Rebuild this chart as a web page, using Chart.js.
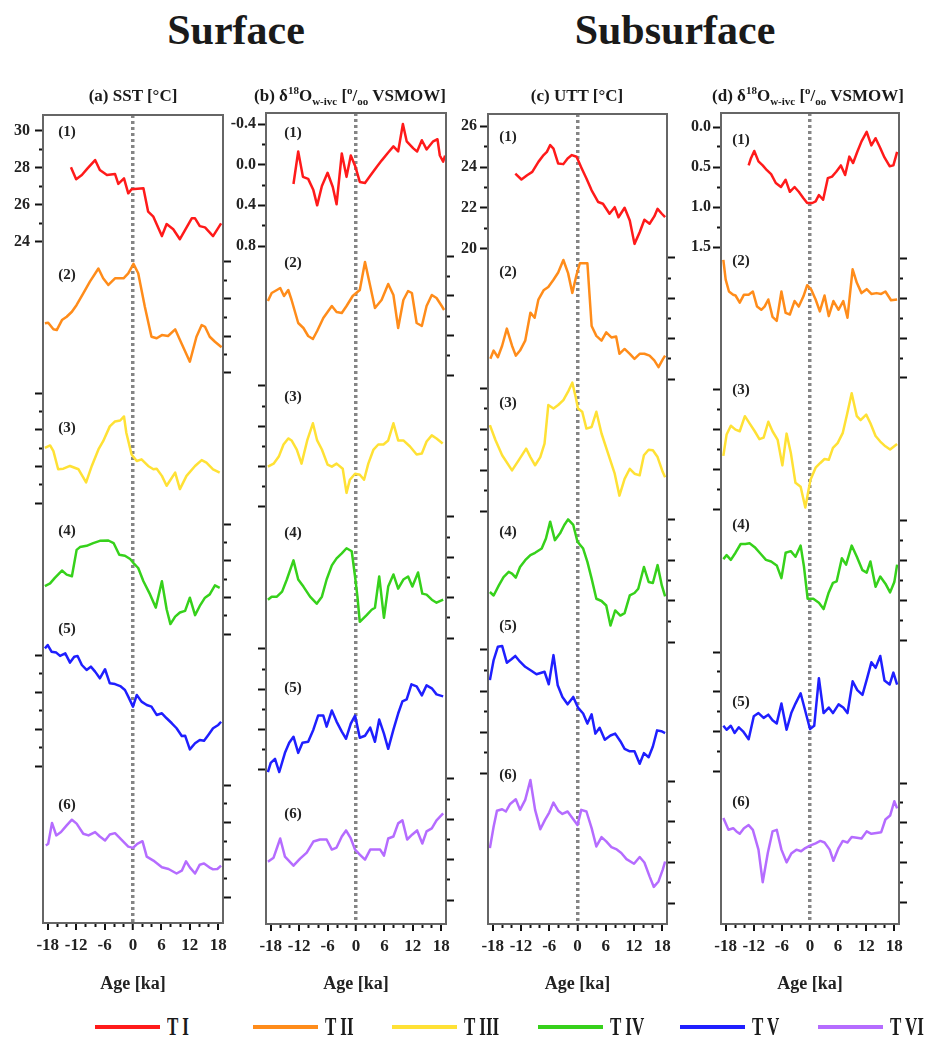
<!DOCTYPE html>
<html>
<head>
<meta charset="utf-8">
<script src="https://cdn.jsdelivr.net/npm/chart.js@4.4.1/dist/chart.umd.min.js"></script>
<style>
  body { margin: 0; background: #fff; width: 928px; height: 1046px; position: relative; overflow: hidden;
         font-family: "Liberation Serif", serif; font-weight: bold; color: #1a1a1a; }
  canvas { position: absolute; top: 100px; }
  .big { position: absolute; top: 9px; font-size: 42px; line-height: 1; transform: translateX(-50%); white-space: nowrap; }
  .ptitle { position: absolute; top: 87px; font-size: 17px; line-height: 1; transform: translateX(-50%); white-space: nowrap; }
  .ptitle sup, .ptitle sub { font-size: 11px; line-height: 0; }
  .leg { position: absolute; top: 1013px; height: 28px; display: flex; align-items: center; white-space: nowrap; }
  .leg span { display: inline-block; width: 65px; height: 4px; margin-right: 7px; }
  .leg b { display: inline-block; font-size: 25px; line-height: 28px; transform: scaleX(0.68); transform-origin: left center; }
</style>
</head>
<body>
<canvas id="ca" width="240" height="900" style="left:0px"></canvas>
<canvas id="cb" width="240" height="900" style="left:222px"></canvas>
<canvas id="cc" width="240" height="900" style="left:445px"></canvas>
<canvas id="cd" width="250" height="900" style="left:678px"></canvas>

<div class="big" style="left:236px">Surface</div>
<div class="big" style="left:675px">Subsurface</div>
<div class="ptitle" style="left:133px">(a) SST [°C]</div>
<div class="ptitle" style="left:350px">(b) δ<sup>18</sup>O<sub>w-ivc</sub> [<sup>o</sup>/<sub>oo</sub> VSMOW]</div>
<div class="ptitle" style="left:577px">(c) UTT [°C]</div>
<div class="ptitle" style="left:808px">(d) δ<sup>18</sup>O<sub>w-ivc</sub> [<sup>o</sup>/<sub>oo</sub> VSMOW]</div>
<div id="legend"></div>

<script>
// terminations
const termNames = ["T I", "T II", "T III", "T IV", "T V", "T VI"];
const termColors = ["#ff1a1a", "#ff8c1a", "#ffe135", "#36d11b", "#1f1fff", "#b56cff"];

// x axis ticks (age relative to termination, ka)
const xMajor = [-18, -12, -6, 0, 6, 12, 18];
const xMinor = [-16, -14, -10, -8, -4, -2, 2, 4, 8, 10, 14, 16];

// y tick values, listed top to bottom (same units for every stacked record)
const sstTicks = [30, 29, 28, 27, 26, 25, 24];
const d18oTicksB = [-0.4, -0.2, 0, 0.2, 0.4, 0.6, 0.8];
const uttTicks = [26, 25, 24, 23, 22, 21, 20];
const d18oTicksD = [0, 0.25, 0.5, 0.75, 1, 1.25, 1.5];

// (a) SST
const sstAge = [
  [-13.1,-12.0,-10.8,-9.6,-8.0,-7.0,-5.5,-3.8,-3.1,-1.9,-1.0,-0.3,2.2,3.2,4.3,6.1,7.1,8.5,9.9,12.4,13.1,14.1,15.2,16.9,18.6],
  [-18.6,-17.9,-16.8,-16.1,-15.0,-14.0,-12.9,-11.9,-10.5,-9.1,-7.3,-6.3,-5.2,-3.8,-2.0,-1.0,0.1,1.1,2.5,3.9,5.0,6.1,7.4,8.9,10.3,12.0,13.4,14.5,15.2,16.2,17.3,18.7],
  [-18.6,-17.5,-16.8,-15.8,-14.7,-13.3,-11.5,-9.9,-8.7,-7.3,-6.3,-4.9,-3.8,-2.7,-1.9,-1.4,-0.3,0.8,1.8,3.2,4.3,5.0,6.1,7.1,8.9,9.9,11.3,13.1,14.5,15.5,16.9,18.3],
  [-18.6,-17.5,-16.5,-15.0,-14.0,-12.9,-11.9,-11.2,-9.8,-8.4,-7.0,-5.2,-4.1,-2.9,-1.7,-0.6,0.1,1.1,2.2,3.6,4.8,6.1,7.1,7.9,8.9,9.9,11.0,12.0,13.1,14.1,15.2,16.2,17.3,18.3],
  [-18.6,-18.0,-17.2,-16.2,-15.4,-14.3,-13.3,-12.4,-11.7,-10.8,-9.8,-8.9,-8.0,-7.0,-5.9,-4.9,-3.8,-2.7,-1.7,-1.0,0.0,0.8,1.8,2.9,3.9,5.0,6.1,7.1,8.2,9.2,10.3,11.0,12.0,13.1,14.1,15.0,15.9,16.9,18.0,18.6],
  [-18.4,-17.9,-17.1,-16.2,-15.2,-14.0,-12.9,-11.9,-10.5,-9.4,-8.0,-7.0,-5.9,-4.9,-3.8,-2.4,-1.0,0.0,0.9,2.0,2.9,4.3,6.1,7.5,9.2,10.3,11.2,12.0,13.1,14.1,15.0,16.1,16.9,17.8,18.6]
];
const sstVal = [
  [28.04,27.39,27.62,27.98,28.43,27.89,27.62,27.68,27.14,27.44,26.63,26.85,26.90,25.64,25.37,24.32,24.97,24.69,24.15,25.28,25.28,24.86,24.79,24.32,25.01],
  [26.69,26.72,26.36,26.32,26.86,27.04,27.31,27.68,28.31,28.94,29.65,29.12,28.76,29.12,29.12,29.39,29.9,29.39,27.58,25.96,25.88,26.05,26.0,26.36,25.57,24.61,25.96,26.59,26.5,25.96,25.69,25.39],
  [27.01,27.14,26.83,25.84,25.87,26.02,25.84,25.12,26.02,26.92,27.37,28.18,28.45,28.50,28.72,27.82,26.65,26.29,26.38,26.02,25.84,25.87,25.48,24.94,25.66,24.76,25.48,26.02,26.34,26.2,25.84,25.66],
  [26.61,26.76,27.06,27.46,27.24,27.15,28.59,28.74,28.81,28.96,29.08,29.10,28.96,28.32,28.27,28.09,27.87,27.6,26.88,26.16,25.44,26.88,25.35,24.54,24.95,25.17,25.26,25.98,25.03,25.53,25.98,26.16,26.65,26.52],
  [30.36,30.54,30.18,30.13,29.95,30.09,29.59,29.91,29.95,29.46,29.19,29.37,29.10,28.74,29.23,28.47,28.43,28.32,28.11,27.75,27.21,27.84,27.48,27.30,27.21,26.76,26.85,26.58,26.31,26.04,25.62,25.64,24.90,25.23,25.41,25.37,25.68,26.04,26.22,26.39],
  [26.76,26.85,27.97,27.30,27.48,27.84,28.14,27.93,27.39,27.30,27.48,27.24,27.03,27.35,27.42,27.06,26.70,26.63,26.85,26.99,26.16,25.95,25.59,25.50,25.26,25.41,25.91,25.59,25.26,25.73,25.80,25.59,25.48,25.50,25.68]
];

// (b) surface d18O(w-ivc)
const d18oSurfAge = [
  [-13.2,-12.2,-11.2,-10.1,-9.0,-8.2,-7.2,-6.0,-4.9,-4.1,-3.0,-2.0,-1.1,-0.2,0.8,1.9,3.0,4.4,5.4,6.8,7.9,8.9,9.9,10.7,12.1,12.9,13.9,14.9,16.3,17.2,17.7,18.4,18.8],
  [-18.6,-17.8,-16.7,-16.0,-15.2,-14.3,-13.6,-12.2,-11.1,-10.1,-9.1,-8.2,-6.9,-5.1,-4.1,-3.0,-2.0,-0.7,0.8,1.9,3.0,4.0,5.4,6.8,7.9,8.9,10.0,11.0,11.8,12.8,13.9,14.9,16.0,17.0,18.1,18.6],
  [-18.6,-17.4,-16.3,-15.3,-14.3,-13.6,-12.5,-11.5,-10.3,-9.1,-8.2,-7.2,-6.0,-5.1,-4.1,-2.8,-2.0,-1.3,-0.2,0.8,1.7,2.6,3.7,4.7,5.8,6.8,7.9,8.9,10.0,11.4,12.8,13.9,14.9,16.0,17.0,18.3],
  [-18.6,-17.8,-16.7,-15.6,-14.6,-13.2,-12.2,-11.1,-9.7,-8.3,-7.2,-6.2,-5.1,-4.1,-3.0,-2.0,-0.9,-0.2,0.3,0.8,2.3,3.3,4.0,4.9,5.9,6.8,7.9,8.9,10.0,11.0,11.9,13.1,14.0,14.9,16.0,17.0,18.4],
  [-18.6,-18.0,-17.1,-16.2,-15.0,-14.1,-13.2,-12.2,-11.3,-10.1,-9.0,-8.0,-6.9,-6.2,-5.1,-4.1,-3.0,-2.1,-1.1,-0.2,0.8,1.9,3.0,4.0,4.9,5.9,6.8,7.9,8.9,9.8,10.7,11.7,12.8,13.9,14.9,16.0,17.0,18.4],
  [-18.6,-17.4,-16.0,-15.0,-13.2,-11.8,-10.4,-9.0,-7.6,-6.2,-5.1,-4.1,-3.0,-2.1,-1.1,-0.2,0.8,1.9,3.0,4.0,5.1,5.9,6.8,7.9,8.9,9.8,10.8,11.9,12.9,14.0,14.9,16.0,17.0,18.4]
];
const d18oSurfVal = [
  [0.19,-0.13,0.12,0.14,0.25,0.40,0.21,0.08,0.22,0.39,-0.11,0.12,-0.09,0.01,0.17,0.18,0.11,0.02,-0.04,-0.12,-0.18,-0.13,-0.40,-0.23,-0.16,-0.13,-0.24,-0.15,-0.23,-0.25,-0.09,-0.03,-0.09],
  [0.05,-0.03,-0.06,-0.08,0.00,-0.06,0.04,0.27,0.32,0.40,0.43,0.35,0.22,0.10,0.16,0.17,0.10,0.00,-0.06,-0.34,-0.10,0.12,0.04,-0.12,-0.01,0.32,0.04,-0.05,-0.03,0.27,0.30,0.10,-0.01,0.02,0.10,0.14],
  [0.40,0.37,0.30,0.18,0.12,0.14,0.23,0.37,0.14,-0.03,0.14,0.23,0.38,0.40,0.37,0.42,0.66,0.53,0.47,0.48,0.53,0.37,0.23,0.18,0.18,0.14,-0.03,0.14,0.14,0.20,0.28,0.27,0.15,0.09,0.12,0.17],
  [0.42,0.39,0.39,0.34,0.22,0.03,0.22,0.29,0.39,0.46,0.39,0.22,0.08,0.01,-0.04,-0.09,-0.06,0.19,0.39,0.64,0.57,0.52,0.50,0.19,0.60,0.29,0.17,0.31,0.22,0.19,0.29,0.15,0.36,0.37,0.42,0.45,0.42],
  [0.82,0.73,0.69,0.82,0.63,0.53,0.47,0.63,0.53,0.52,0.40,0.26,0.26,0.37,0.21,0.32,0.42,0.49,0.34,0.26,0.48,0.46,0.38,0.52,0.30,0.44,0.59,0.40,0.24,0.12,0.10,-0.05,-0.03,0.06,-0.04,-0.01,0.05,0.07],
  [0.42,0.38,0.19,0.37,0.46,0.39,0.33,0.22,0.20,0.20,0.30,0.28,0.17,0.11,0.19,0.30,0.35,0.40,0.30,0.30,0.30,0.36,0.19,0.17,0.04,0.01,0.20,0.15,0.11,0.24,0.12,0.09,0.01,-0.06]
];

// (c) UTT
const uttAge = [
  [-13.2,-11.9,-10.7,-9.6,-8.3,-7.2,-6.5,-5.8,-5.1,-4.1,-3.0,-2.1,-1.2,-0.2,0.9,1.9,3.0,4.4,5.4,6.8,7.9,8.7,10.0,11.1,12.1,13.2,14.2,15.3,16.3,17.0,17.9,18.6],
  [-18.5,-17.8,-16.9,-16.0,-15.0,-13.9,-13.1,-12.2,-11.1,-10.0,-9.1,-8.3,-7.2,-6.2,-5.1,-4.1,-3.0,-2.0,-1.1,-0.2,0.5,2.1,3.0,4.0,5.1,6.1,7.2,8.2,8.9,10.0,11.1,12.1,13.2,14.2,15.3,16.3,17.2,18.1,18.6],
  [-18.6,-17.4,-16.0,-13.9,-12.5,-10.9,-10.0,-9.0,-7.9,-7.0,-6.2,-5.1,-4.1,-3.0,-2.0,-1.1,-0.4,0.1,1.0,1.9,3.0,4.0,5.1,6.5,7.9,8.9,10.0,11.1,12.1,13.2,14.1,15.1,16.0,17.0,18.1,18.6],
  [-18.6,-17.8,-16.7,-15.7,-14.6,-13.9,-13.1,-12.2,-11.1,-10.0,-9.0,-7.6,-6.7,-5.8,-4.8,-3.7,-2.8,-2.0,-0.9,0.0,1.2,2.1,3.0,4.0,5.1,6.1,7.0,8.0,9.1,10.0,11.1,12.1,12.9,14.1,15.1,16.0,17.0,17.9,18.6],
  [-18.6,-17.8,-16.9,-16.0,-15.0,-14.1,-13.2,-12.2,-11.1,-9.8,-8.7,-7.0,-6.1,-5.1,-4.2,-3.2,-2.1,-0.9,0.1,1.2,2.1,3.0,3.8,4.7,5.8,7.0,8.0,9.1,10.0,11.1,12.1,13.2,14.1,15.1,16.0,16.9,17.8,18.6],
  [-18.6,-17.8,-17.1,-16.0,-15.2,-14.3,-13.1,-12.2,-11.1,-10.0,-9.0,-7.9,-6.9,-6.0,-5.1,-4.1,-3.2,-2.1,-0.9,0.0,0.8,1.9,3.0,4.0,5.1,6.1,7.2,8.2,9.3,10.4,12.0,13.2,14.2,15.3,16.2,17.2,18.1,18.6]
];
const uttVal = [
  [23.68,23.39,23.60,23.76,24.25,24.58,24.74,25.07,24.90,24.17,24.14,24.42,24.58,24.50,23.93,23.44,22.86,22.29,22.21,21.72,22.04,21.55,22.01,21.39,20.25,20.82,21.43,21.23,21.59,21.96,21.72,21.55],
  [21.0,21.41,21.08,21.65,22.50,21.65,21.16,21.41,21.90,23.29,23.04,23.94,24.40,24.56,24.92,25.28,25.90,25.25,24.27,25.17,25.74,25.74,22.63,22.14,21.90,22.31,22.06,22.11,21.25,21.49,21.25,21.0,21.25,21.25,21.16,20.92,20.59,20.97,21.16],
  [24.19,23.45,22.72,21.98,22.47,23.04,22.63,22.23,22.63,23.29,25.17,25.00,25.17,25.41,25.82,26.26,25.58,25.00,24.84,24.02,24.10,24.84,23.78,22.80,21.82,20.75,21.57,22.06,21.82,21.74,22.72,22.99,22.96,22.63,21.90,21.65],
  [22.44,22.27,22.76,23.17,23.42,23.34,23.14,23.66,23.99,24.24,24.35,24.56,25.05,25.87,24.97,25.30,25.71,25.98,25.71,24.89,24.56,23.91,23.09,22.11,22.0,21.78,20.80,21.54,21.29,21.41,22.27,22.39,22.60,23.66,22.93,22.88,23.75,22.76,22.23],
  [24.53,25.51,26.16,26.20,25.38,25.54,25.71,25.43,25.18,24.99,24.82,24.94,24.33,25.75,24.28,23.71,23.35,23.71,23.19,22.90,22.41,22.86,21.92,22.21,21.62,21.83,21.92,21.55,21.18,21.06,21.06,20.45,20.97,20.77,21.29,22.08,22.04,21.95],
  [22.70,23.76,24.54,24.61,24.50,24.87,25.10,24.58,25.07,26.05,24.58,23.63,24.09,24.45,24.94,24.54,24.38,24.50,24.12,23.84,24.58,24.50,23.68,22.78,23.24,23.03,22.75,22.65,22.46,22.16,21.93,22.26,21.99,21.31,20.79,21.06,21.64,22.04]
];

// (d) subsurface d18O(w-ivc)
const d18oSubAge = [
  [-13.1,-12.6,-11.9,-11.0,-10.1,-9.2,-8.3,-7.3,-6.2,-5.2,-4.3,-3.3,-2.4,-1.4,-0.6,0.5,1.2,1.9,2.8,3.8,4.7,5.6,6.6,7.5,8.4,9.2,10.1,11.0,12.1,13.1,14.0,14.9,15.9,17.0,17.8,18.6],
  [-18.5,-18.0,-17.3,-16.4,-15.9,-15.0,-14.1,-13.1,-12.2,-11.3,-10.4,-9.7,-8.9,-8.0,-7.1,-6.1,-5.2,-4.3,-3.3,-2.4,-1.4,-0.6,0.3,1.2,2.1,3.1,4.0,5.0,6.1,7.1,8.0,9.1,10.0,11.0,12.1,13.1,14.2,15.2,16.1,17.3,18.6],
  [-18.5,-17.8,-16.9,-15.9,-15.0,-13.9,-12.9,-11.8,-10.8,-9.9,-8.9,-8.0,-6.9,-5.9,-5.0,-4.1,-3.1,-2.0,-1.0,0.1,1.2,2.2,3.1,4.0,4.9,5.9,7.0,7.9,8.9,10.0,10.8,12.0,12.9,14.0,15.0,16.1,17.1,18.6],
  [-18.5,-17.8,-16.9,-15.9,-14.8,-13.8,-12.9,-11.8,-10.6,-9.4,-8.3,-7.1,-6.1,-5.2,-4.1,-3.1,-2.0,-1.3,-0.5,0.7,1.9,2.9,4.0,4.9,5.7,6.8,7.7,8.9,10.0,11.2,12.1,12.9,14.0,15.0,16.1,17.1,18.0,18.6],
  [-18.5,-17.8,-16.9,-16.1,-15.2,-14.3,-13.1,-12.0,-11.0,-9.9,-8.9,-8.0,-7.1,-6.1,-5.0,-4.0,-3.1,-2.0,-1.2,0.0,0.9,1.9,2.9,4.0,4.9,6.1,7.1,8.0,9.1,10.1,11.2,12.2,13.1,14.0,15.0,15.9,17.0,17.8,18.6],
  [-18.5,-17.4,-16.4,-15.7,-15.0,-14.1,-13.1,-12.2,-11.0,-10.1,-9.0,-8.0,-7.1,-6.1,-5.0,-4.0,-2.9,-1.9,-1.0,0.0,1.2,2.2,3.1,4.2,5.0,6.1,7.0,8.0,8.9,10.0,11.0,12.1,13.1,14.2,15.2,16.1,17.1,18.0,18.6]
];
const d18oSubVal = [
  [0.48,0.39,0.30,0.43,0.48,0.54,0.59,0.70,0.75,0.66,0.81,0.75,0.81,0.89,0.95,0.95,0.93,0.85,0.91,0.64,0.62,0.56,0.48,0.60,0.37,0.45,0.31,0.18,0.06,0.23,0.14,0.25,0.38,0.49,0.48,0.31],
  [0.01,0.26,0.41,0.45,0.46,0.55,0.45,0.45,0.41,0.60,0.64,0.60,0.51,0.73,0.78,0.41,0.68,0.70,0.53,0.60,0.47,0.33,0.39,0.51,0.66,0.46,0.72,0.53,0.64,0.53,0.74,0.13,0.30,0.43,0.38,0.44,0.43,0.44,0.41,0.52,0.51],
  [0.83,0.56,0.45,0.50,0.52,0.33,0.42,0.52,0.62,0.60,0.40,0.52,0.63,0.95,0.55,0.79,1.17,1.22,1.48,1.13,0.98,0.92,0.87,0.88,0.73,0.67,0.54,0.31,0.04,0.33,0.38,0.31,0.42,0.58,0.65,0.71,0.75,0.68],
  [0.48,0.43,0.49,0.40,0.29,0.29,0.28,0.33,0.41,0.49,0.51,0.56,0.72,0.40,0.38,0.45,0.31,0.57,0.98,0.98,1.03,1.11,0.90,0.78,0.76,0.47,0.55,0.31,0.45,0.62,0.65,0.51,0.83,0.70,0.79,0.90,0.77,0.55],
  [0.93,0.98,0.93,1.02,0.95,1.00,1.10,0.81,0.77,0.83,0.79,0.86,0.90,0.65,0.98,0.77,0.65,0.52,0.70,0.97,0.93,0.33,0.77,0.70,0.77,0.66,0.70,0.77,0.37,0.48,0.54,0.33,0.13,0.20,0.05,0.36,0.41,0.26,0.41],
  [0.44,0.59,0.57,0.61,0.64,0.57,0.53,0.59,0.84,1.25,0.88,0.61,0.59,0.84,1.00,0.89,0.84,0.86,0.82,0.79,0.76,0.73,0.75,0.84,0.98,0.82,0.73,0.75,0.68,0.69,0.70,0.61,0.64,0.63,0.62,0.46,0.41,0.23,0.32]
];

// page layout of each panel (plot box, where each record's ticks sit, where its "(n)" goes)
const CANVAS_TOP = 100, CANVAS_BOTTOM = 1000;
const panels = [
  { id: "ca", left: 0, width: 240, plotL: 43, plotR: 223, plotT: 115, plotB: 923, labelPad: 5,
    ticks: sstTicks, fmt: v => String(v), ages: sstAge, vals: sstVal,
    bandTop: [131, 262, 393, 524, 655, 785], bandBot: [242, 373, 503, 634, 766, 897],
    labelX: 24, labelY: [17, 160, 313, 416, 514, 690] },
  { id: "cb", left: 222, width: 240, plotL: 266, plotR: 446, plotT: 113, plotB: 924, labelPad: 2,
    ticks: d18oTicksB, fmt: v => v.toFixed(1), ages: d18oSurfAge, vals: d18oSurfVal,
    bandTop: [124, 256, 386, 517, 649, 779], bandBot: [246, 376, 507, 638, 770, 900],
    labelX: 27, labelY: [20, 150, 284, 420, 575, 701] },
  { id: "cc", left: 445, width: 240, plotL: 488, plotR: 667, plotT: 114, plotB: 924, labelPad: 3,
    ticks: uttTicks, fmt: v => String(v), ages: uttAge, vals: uttVal,
    bandTop: [126, 258, 388, 519, 650, 781], bandBot: [249, 379, 511, 642, 773, 903],
    labelX: 20, labelY: [23, 158, 289, 418, 512, 661] },
  { id: "cd", left: 678, width: 250, plotL: 721, plotR: 899, plotT: 113, plotB: 924, labelPad: 2,
    ticks: d18oTicksD, fmt: v => v.toFixed(1), ages: d18oSubAge, vals: d18oSubVal,
    bandTop: [127, 259, 390, 521, 652, 783], bandBot: [247, 378, 509, 640, 771, 902],
    labelX: 20, labelY: [27, 148, 277, 412, 589, 689] }
];

Chart.defaults.font.family = '"Liberation Serif", serif';
Chart.defaults.font.weight = "bold";
Chart.defaults.color = "#222";

// axis range so that the record's ticks land in its own band of the panel
function axisRange(p, i) {
  const vt = p.ticks[0], vb = p.ticks[p.ticks.length - 1];
  const bt = p.bandTop[i], bb = p.bandBot[i];
  const at = y => vt + (y - bt) * (vb - vt) / (bb - bt);
  const top = at(p.plotT), bottom = at(p.plotB);
  return { min: Math.min(top, bottom), max: Math.max(top, bottom), reverse: top < bottom };
}

function yAxes(p) {
  const scales = {};
  const major = p.ticks.filter((v, k) => k % 2 === 0);
  const minor = p.ticks.filter((v, k) => k % 2 === 1);
  for (let i = 0; i < 6; i++) {
    const r = axisRange(p, i);
    const side = i % 2 === 0 ? "left" : "right";
    const base = { type: "linear", axis: "y", position: side, min: r.min, max: r.max, reverse: r.reverse,
                   border: { display: false } };
    scales["y" + i] = Object.assign({}, base, {
      weight: i === 0 ? 10 : 0,
      grid: { drawOnChartArea: false, tickColor: "#111", tickWidth: 2, tickLength: 8 },
      ticks: { display: i === 0, padding: p.labelPad, autoSkip: false, font: { size: 16, weight: "bold" },
               color: "#222", callback: p.fmt },
      afterBuildTicks: s => { s.ticks = major.map(v => ({ value: v })); },
      afterFit: s => { s.width = i === 0 ? p.plotL - p.left : 0; }
    });
    scales["m" + i] = Object.assign({}, base, {
      weight: 0,
      grid: { drawOnChartArea: false, tickColor: "#111", tickWidth: 2, tickLength: 4 },
      ticks: { display: false },
      afterBuildTicks: s => { s.ticks = minor.map(v => ({ value: v })); },
      afterFit: s => { s.width = 0; }
    });
  }
  return scales;
}

function panelPlugin(p) {
  return {
    id: "panelFrame",
    afterDraw(chart) {
      const { ctx, chartArea: a } = chart;
      ctx.save();
      ctx.strokeStyle = "#666";
      ctx.lineWidth = 2;
      ctx.strokeRect(a.left, a.top, a.right - a.left, a.bottom - a.top);
      ctx.fillStyle = "#222";
      ctx.font = 'bold 15px "Liberation Serif"';
      ctx.textAlign = "center";
      ctx.textBaseline = "middle";
      p.labelY.forEach((y, i) => ctx.fillText("(" + (i + 1) + ")", a.left + p.labelX, a.top + y));
      ctx.restore();
    }
  };
}

panels.forEach(p => {
  const datasets = p.ages.map((ages, i) => ({
    label: termNames[i],
    data: ages.map((a, j) => ({ x: a, y: p.vals[i][j] })),
    borderColor: termColors[i],
    borderWidth: 2.5,
    borderJoinStyle: "round",
    pointRadius: 0,
    fill: false,
    yAxisID: "y" + i
  }));
  const xAxisH = CANVAS_BOTTOM - p.plotB;
  new Chart(document.getElementById(p.id), {
    type: "line",
    data: { datasets },
    options: {
      responsive: false,
      animation: false,
      layout: { padding: { left: 0, right: p.left + p.width - p.plotR, top: p.plotT - CANVAS_TOP, bottom: 0 } },
      plugins: { legend: { display: false }, tooltip: { enabled: false } },
      scales: Object.assign({
        x: {
          type: "linear", position: "bottom", min: -19, max: 19, weight: 1, z: 1,
          border: { display: false, dash: [3, 3] },
          grid: {
            drawOnChartArea: true,
            color: c => (c.tick && c.tick.value === 0 ? "#858585" : "rgba(0,0,0,0)"),
            lineWidth: c => (c.tick && c.tick.value === 0 ? 3.5 : 0),
            tickColor: "#111", tickWidth: 2, tickLength: 7
          },
          ticks: { autoSkip: false, maxRotation: 0, padding: 5, font: { size: 17, weight: "bold" }, color: "#222" },
          title: { display: true, text: "Age [ka]", font: { size: 18, weight: "bold" }, color: "#222",
                   padding: { top: 0, bottom: 5 } },
          afterBuildTicks: s => { s.ticks = xMajor.map(v => ({ value: v })); },
          afterFit: s => { s.height = xAxisH; }
        },
        xm: {
          type: "linear", axis: "x", position: "bottom", min: -19, max: 19, weight: 0,
          border: { display: false },
          grid: { drawOnChartArea: false, tickColor: "#111", tickWidth: 2, tickLength: 4 },
          ticks: { display: false },
          afterBuildTicks: s => { s.ticks = xMinor.map(v => ({ value: v })); },
          afterFit: s => { s.height = 0; }
        }
      }, yAxes(p))
    },
    plugins: [panelPlugin(p)]
  });
});

// legend across the bottom
const legendX = [95, 253, 392, 538, 680, 818];
const legend = document.getElementById("legend");
termNames.forEach((name, i) => {
  const item = document.createElement("div");
  item.className = "leg";
  item.style.left = legendX[i] + "px";
  item.innerHTML = '<span style="background:' + termColors[i] + '"></span><b>' + name + '</b>';
  legend.appendChild(item);
});
</script>
</body>
</html>
